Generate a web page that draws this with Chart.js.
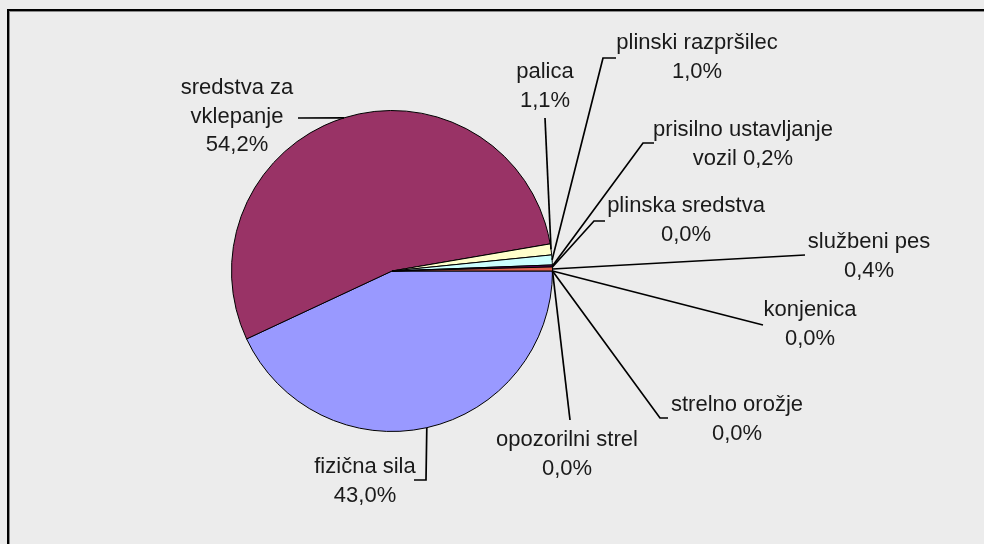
<!DOCTYPE html>
<html>
<head>
<meta charset="utf-8">
<script src="https://cdn.jsdelivr.net/npm/chart.js@4"></script>
<style>
    body { margin: 0; background: #ececec; overflow: hidden; }
    #frame {
        position: absolute; left: 7px; top: 9px; width: 1200px; height: 800px;
        border-top: 2px solid #000; border-left: 2px solid #000;
        box-shadow: inset 1px 1px 0 #8a8a8a;
    }
    #pie { position: absolute; left: 0; top: 0; }
</style>
</head>
<body>
<div id="frame"></div>
<canvas id="pie" width="984" height="544"></canvas>
<script>
// data (clockwise from 3 o'clock)
var categories = ['fizična sila', 'sredstva za vklepanje', 'palica', 'plinski razpršilec',
    'prisilno ustavljanje vozil', 'plinska sredstva', 'službeni pes', 'konjenica',
    'strelno orožje', 'opozorilni strel'];
var shares = [43.0, 54.2, 1.1, 1.0, 0.2, 0.0, 0.4, 0.0, 0.0, 0.0];

var colors = ['#9999ff', '#993366', '#ffffcc', '#ccffff', '#660066',
    '#ff8080', '#e0604f', '#ccccff', '#000080', '#ff00ff'];

// how each label is broken into lines; the percentage goes on its own line
// unless inline is true
var labelLines = [
    ['fizična sila'], ['sredstva za', 'vklepanje'], ['palica'], ['plinski razpršilec'],
    ['prisilno ustavljanje', 'vozil'], ['plinska sredstva'], ['službeni pes'],
    ['konjenica'], ['strelno orožje'], ['opozorilni strel']
];
var inlineValue = [false, false, false, false, true, false, false, false, false, false];

// label layout, offsets from pie centre: text centre of first line + leader points
var labelLayout = [
    { tx: -27, ty: 196, lead: [[34, 209], [22, 209]] },
    { tx: -155, ty: -183, lead: [[-94, -153]] },
    { tx: 153, ty: -199, lead: [[153, -153]] },
    { tx: 305, ty: -228, lead: [[211, -213], [224, -213]] },
    { tx: 351, ty: -141, lead: [[251, -128], [262, -128]] },
    { tx: 294, ty: -65, lead: [[202, -50], [213, -50]] },
    { tx: 477, ty: -29, lead: [[413, -16]] },
    { tx: 418, ty: 39, lead: [[371, 54]] },
    { tx: 345, ty: 134, lead: [[268, 147], [276, 147]] },
    { tx: 175, ty: 169, lead: [[178, 149]] }
];

function pct(v) {
    return v.toFixed(1).replace('.', ',') + '%';
}

var pieLabels = {
    id: 'pieLabels',
    afterDatasetsDraw: function(chart) {
        var ctx = chart.ctx;
        var meta = chart.getDatasetMeta(0);
        ctx.save();
        ctx.font = '22px "Liberation Sans", Arial, sans-serif';
        ctx.fillStyle = '#1a1a1a';
        ctx.strokeStyle = '#000';
        ctx.lineWidth = 1.7;
        ctx.textAlign = 'center';
        ctx.textBaseline = 'middle';
        meta.data.forEach(function(arc, i) {
            var p = arc.getProps(['x', 'y', 'startAngle', 'endAngle', 'outerRadius'], true);
            var mid = (p.startAngle + p.endAngle) / 2;
            var lay = labelLayout[i];
            // leader line
            ctx.beginPath();
            ctx.moveTo(p.x + Math.cos(mid) * p.outerRadius, p.y + Math.sin(mid) * p.outerRadius);
            lay.lead.forEach(function(pt) {
                ctx.lineTo(p.x + pt[0], p.y + pt[1]);
            });
            ctx.stroke();
            // text
            var lines = labelLines[i].slice();
            if (inlineValue[i]) {
                lines[lines.length - 1] += ' ' + pct(shares[i]);
            } else {
                lines.push(pct(shares[i]));
            }
            lines.forEach(function(t, k) {
                ctx.fillText(t, p.x + lay.tx, p.y + lay.ty + k * 28.5);
            });
        });
        ctx.restore();
    }
};

var ctx = document.getElementById('pie').getContext('2d');
var pieChart = new Chart(ctx, {
    type: 'pie',
    data: {
        labels: categories,
        datasets: [{
            data: shares,
            backgroundColor: colors,
            borderColor: '#000',
            borderWidth: 1
        }]
    },
    options: {
        responsive: false,
        animation: false,
        rotation: 90,
        layout: { padding: { left: 231, right: 431, top: 110, bottom: 112 } },
        plugins: {
            legend: { display: false },
            tooltip: { enabled: false }
        }
    },
    plugins: [pieLabels]
});
</script>
</body>
</html>
